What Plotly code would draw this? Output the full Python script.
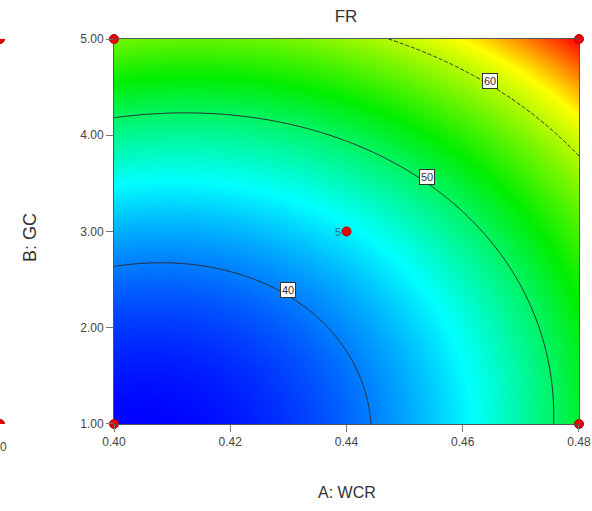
import numpy as np
import plotly.graph_objects as go

# Quadratic response-surface model for FR in coded units
# u = (A - 0.44) / 0.04, v = (B - 3) / 2  (coefficients read/fitted from the contour lines)
coef_names = ["b0", "bA", "bB", "bAB", "bAA", "bBB"]
coef_vals = [44.36, 7.02, 9.86, -1.21, 4.52, 4.58]

A_range = [0.40, 0.48]
B_range = [1.00, 5.00]
x_ticks = [0.40, 0.42, 0.44, 0.46, 0.48]
y_ticks = [1.00, 2.00, 3.00, 4.00, 5.00]

contour_levels = [40, 50, 60]
label_A = [0.4299, 0.4538, 0.4647]
label_B = [2.392, 3.570, 4.564]

design_A = [0.40, 0.40, 0.48, 0.48, 0.44]
design_B = [1.00, 5.00, 1.00, 5.00, 3.00]
center_label = "5"

b0, bA, bB, bAB, bAA, bBB = coef_vals
a = np.linspace(A_range[0], A_range[1], 241)
b = np.linspace(B_range[0], B_range[1], 241)
AA, BB = np.meshgrid(a, b)
U = (AA - 0.44) / 0.04
V = (BB - 3.0) / 2.0
Z = b0 + bA * U + bB * V + bAB * U * V + bAA * U ** 2 + bBB * V ** 2

scale = [[0.0, "rgb(0,0,255)"], [0.28, "rgb(0,255,255)"], [0.53, "rgb(0,238,0)"],
         [0.81, "rgb(255,255,0)"], [1.0, "rgb(255,0,0)"]]

fig = go.Figure()
fig.add_trace(go.Heatmap(x=a, y=b, z=Z, colorscale=scale, showscale=False, zsmooth="best",
                         hoverinfo="skip"))
for lev in contour_levels:
    fig.add_trace(go.Contour(x=a, y=b, z=Z, showscale=False, hoverinfo="skip",
                             contours=dict(start=lev, end=lev, size=1, coloring="none"),
                             line=dict(color="rgb(45,45,45)", width=1,
                                       dash="4px,2px" if lev == 60 else "solid")))

narrow = "Liberation Sans Narrow, Arial Narrow, Liberation Sans, Arial, sans-serif"
regular = "Liberation Sans, Arial, sans-serif"
for lev, la, lb in zip(contour_levels, label_A, label_B):
    fig.add_annotation(x=la, y=lb, text=str(lev), showarrow=False,
                       font=dict(family=narrow, size=11, color="#333"),
                       bgcolor="white", bordercolor="#333", borderwidth=1, borderpad=1)

fig.add_trace(go.Scatter(x=design_A, y=design_B, mode="markers", cliponaxis=False,
                         marker=dict(color="rgb(235,0,0)", size=9,
                                     line=dict(color="rgb(170,0,0)", width=1)),
                         hoverinfo="skip"))
fig.add_annotation(x=design_A[4], y=design_B[4], text=center_label, showarrow=False,
                   xanchor="right", xshift=-4, font=dict(family=narrow, size=11, color="#2a7385"))

# cropped neighbouring-panel remnants on the left edge
for yy in [B_range[1], B_range[0]]:
    fig.add_shape(type="circle", xref="paper", yref="y", xsizemode="pixel", ysizemode="pixel",
                  xanchor=-114 / 465, yanchor=yy, x0=-4.5, x1=4.5, y0=-4.5, y1=4.5,
                  fillcolor="rgb(235,0,0)", line=dict(color="rgb(170,0,0)", width=1))
fig.add_annotation(x=9 / 465 - 114 / 465, y=-23 / 385, xref="paper", yref="paper", text="0",
                   showarrow=False, xanchor="right", yanchor="middle",
                   font=dict(family=narrow, size=12, color="#444"))

# axis titles placed as annotations so they do not change the margins
fig.add_annotation(x=0.5, y=-68 / 385, xref="paper", yref="paper", text="A: WCR", showarrow=False,
                   xanchor="center", yanchor="middle", font=dict(family=regular, size=16, color="#333"))
fig.add_annotation(x=-84 / 465, y=(424 - 238) / 385, xref="paper", yref="paper", text="B: GC",
                   showarrow=False, textangle=-90, xanchor="center", yanchor="middle",
                   font=dict(family=regular, size=18, color="#333"))

eps_a = 1e-6
axis_common = dict(showgrid=False, zeroline=False, ticks="outside", ticklen=7, tickcolor="#777",
                   tickwidth=1, showline=True, linecolor="#555", linewidth=1, mirror=True,
                   tickformat=".2f", tickfont=dict(family=narrow, size=12, color="#444"),
                   automargin=False)
fig.update_xaxes(range=[A_range[0] - eps_a, A_range[1] + eps_a], tickvals=x_ticks, **axis_common)
fig.update_yaxes(range=[B_range[0] - 1e-4, B_range[1] + 1e-4], tickvals=y_ticks, **axis_common)
fig.update_layout(width=592, height=511, margin=dict(l=114, r=13, t=39, b=87),
                  paper_bgcolor="white", plot_bgcolor="white", showlegend=False,
                  title=dict(text="FR", x=346 / 592, xanchor="center", y=1 - 16 / 511, yanchor="middle",
                             font=dict(family=regular, size=17, color="#333")))
fig.write_html("out.html")
